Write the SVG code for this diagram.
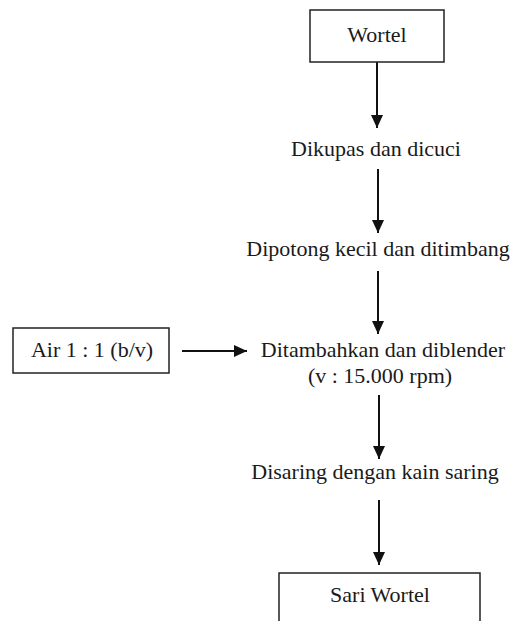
<svg xmlns="http://www.w3.org/2000/svg" width="510" height="621" viewBox="0 0 510 621">
<style>
.box{fill:#fff;stroke:#222;stroke-width:1.5}
.t{font-family:"Liberation Serif","Times New Roman",serif;font-size:22px;fill:#1a1a1a;text-anchor:middle}
.c{stroke:#111;stroke-width:2;fill:none;marker-end:url(#ah)}
</style>
<defs>
<marker id="ah" markerUnits="userSpaceOnUse" markerWidth="14" markerHeight="14" viewBox="0 0 14 14" refX="13" refY="7" orient="auto">
<path d="M0,1 L13,7 L0,13 Z" fill="#111"/>
</marker>
</defs>
<rect width="510" height="621" fill="#fff"/>
<g id="connectors">
<line class="c" x1="377" y1="62" x2="377" y2="128"/>
<line class="c" x1="378" y1="169" x2="378" y2="233"/>
<line class="c" x1="378" y1="271" x2="378" y2="334"/>
<line class="c" x1="182" y1="351" x2="247" y2="351"/>
<line class="c" x1="379" y1="395" x2="379" y2="459"/>
<line class="c" x1="379" y1="500" x2="379" y2="565"/>
</g>
<g id="wortel">
<rect class="box" x="310" y="10" width="134" height="52"/>
<text class="t" x="377" y="42">Wortel</text>
</g>
<g id="dikupas">
<text class="t" x="376" y="156">Dikupas dan dicuci</text>
</g>
<g id="dipotong">
<text class="t" x="378" y="256">Dipotong kecil dan ditimbang</text>
</g>
<g id="air">
<rect class="box" x="13" y="328" width="156" height="45"/>
<text class="t" x="92" y="357">Air 1 : 1 (b/v)</text>
</g>
<g id="ditambahkan">
<text class="t" x="383" y="357">Ditambahkan dan diblender</text>
<text class="t" x="380" y="383">(v : 15.000 rpm)</text>
</g>
<g id="disaring">
<text class="t" x="375" y="479">Disaring dengan kain saring</text>
</g>
<g id="sari">
<rect class="box" x="279" y="573" width="201" height="60"/>
<text class="t" x="380" y="602">Sari Wortel</text>
</g>
</svg>
